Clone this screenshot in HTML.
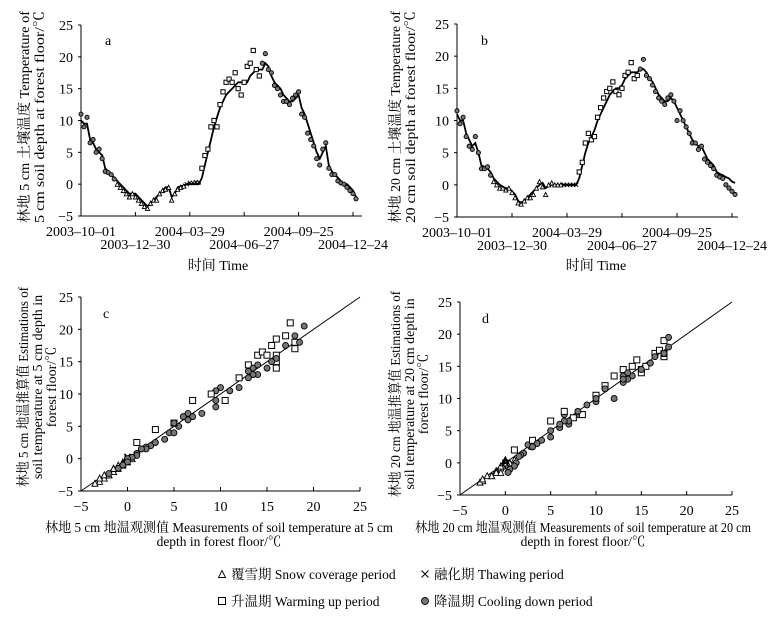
<!DOCTYPE html>
<html><head><meta charset="utf-8"><style>
html,body{margin:0;padding:0;background:#fff;}
svg{display:block;font-family:"Liberation Serif","Noto Serif CJK SC",serif;}
</style></head><body>
<svg id="fig" width="776" height="617" viewBox="0 0 776 617" xmlns="http://www.w3.org/2000/svg">
<g id="root"></g>
</svg>
<script>
// Day index step (days per sample) and period definitions
const dayStep = 5;
const periodStarts = [0, 60, 175, 200, 300];
const periodKinds = ['cool', 'snow', 'thaw', 'warm', 'cool'];
const timeTickLabels = ['2003-10-01','2003-12-30','2004-03-29','2004-06-27','2004-09-25','2004-12-24'];
const timeTickDays = [0, 90, 180, 270, 360, 450];
const valueTicks = [-5, 0, 5, 10, 15, 20, 25];
// 5 cm measured (line)
const meas5 = [10,9.5,9.5,7,6.5,5.5,5,4.5,2.5,2,1.5,1,0.5,0,-0.5,-1,-1.5,-1.5,-1.5,-2,-2.5,-3,-3.5,-3,-2.5,-2,-1.5,-1,-0.5,-0.5,-2,-1.5,-0.5,-0.3,-0.2,0,0,0,0,0,1,3,5,7,9,10.5,12,13,14,14.5,15,15.5,16,16,16,16,17,17.5,18,18,18,19,18.5,17,16,15.5,15,14,13.5,13,13,13.5,14,12,11,9.5,8,6.5,5,4,5,6,3,2,1.5,1,0.5,0,0,-0.5,-1,-2];
// 5 cm estimated (points)
const est5 = [11,9,10.5,6.5,7,5,5.5,4,2,1.8,1.5,0.8,0,-0.5,-1,-1.5,-2,-1.5,-2,-2.5,-3,-3.5,-3.8,-3,-2.5,-2.5,-1.5,-1,-0.8,-0.5,-2.5,-1.5,-0.8,-0.5,-0.3,0,0.2,0.2,0.3,0.3,2.5,4.5,5.5,9,10,9,12.5,14.5,16,16.5,16,17.5,15,14,16,18.5,19,21,18,17,19,20.5,18,17.5,15.5,15,14,13,13,12.5,13.5,14,14.5,11,10.5,8,7,6,4,3,5.5,6.5,2.5,1.5,1.5,0.5,0.2,0,-0.5,-1,-1.5,-2.3];
// 20 cm measured (line)
const meas20 = [11,10,10,8,7,6,6.5,5,3,2.8,2.5,2,1,0.5,0,-0.3,-0.5,-0.5,-1,-1.5,-2.5,-2.8,-2.5,-2,-1.5,-1,-0.5,0,0.3,-0.5,-0.2,0,0,0,0,0,0,0,0,0,1,3,5,6.5,7.5,8.5,10,11,12,13,14,14.5,15,15,15.5,16.5,17,17.5,17.5,17.5,18,18,17.5,16.5,16,15,14,13.5,13,13,13.5,13,12,11,10,9,8,7,6.5,6,6,5,4,3.5,3,2,1.7,1.5,1.2,1,0.5,0.3];
// 20 cm estimated (points)
const est20 = [11.5,9.5,10.5,7.5,6,5.5,7.5,5,2.5,2.5,2.8,1.5,0.5,0,-0.5,-0.5,-0.8,-0.5,-1.2,-2,-2.8,-3,-2.5,-2,-2,-1.5,-0.5,0.5,-0.3,-1.5,0,0.3,0,0,0,0,0,0,0,0,2,3.5,6.5,8,7,7.5,10.5,12,13.5,14.5,15,16,14.5,14,15,17,17.5,19,16.5,17,18,19.5,17,16.5,15.5,14.5,13.5,13,12.5,13.5,14,13,10,11.5,10,9,8,6.5,6.5,5.5,6,4,3.5,3,2.5,1.5,1.2,1,0,-0.5,-1,-1.5];

const NS = 'http://www.w3.org/2000/svg';
const root = document.getElementById('root');
function mk(tag, attrs, parent, text) {
  const e = document.createElementNS(NS, tag);
  for (const k in attrs) e.setAttribute(k, attrs[k]);
  if (text !== undefined) e.textContent = text;
  (parent || root).appendChild(e);
  return e;
}
function periodOf(day) {
  let k = periodKinds[0];
  for (let i = 0; i < periodStarts.length; i++) if (day >= periodStarts[i]) k = periodKinds[i];
  return k;
}
function marker(g, kind, x, y, s) {
  let e;
  if (kind === 'warm') {
    e = mk('rect', {x: x - s/2, y: y - s/2, width: s, height: s, fill: '#fff', stroke: '#000', 'stroke-width': 1}, g);
  } else if (kind === 'cool') {
    e = mk('circle', {cx: x, cy: y, r: s/2, fill: '#777', stroke: '#000', 'stroke-width': 0.9}, g);
  } else if (kind === 'snow') {
    e = mk('path', {d: `M${x} ${y - s/2}L${x + s/2} ${y + s/2}L${x - s/2} ${y + s/2}Z`, fill: '#fff', stroke: '#000', 'stroke-width': 0.9}, g);
  } else {
    e = mk('path', {d: `M${x - s/2} ${y - s/2}L${x + s/2} ${y + s/2}M${x + s/2} ${y - s/2}L${x - s/2} ${y + s/2}`, stroke: '#000', 'stroke-width': 1}, g);
  }
  
  
}
function fmt(v) { return v < 0 ? '\u2212' + Math.abs(v) : String(v); }
function vtext(g, x, cy, s, len) {
  const a = {x: x, y: cy, 'text-anchor': 'middle', 'font-size': 14, transform: `rotate(-90 ${x} ${cy})`};
  if (len) { a.textLength = len; a.lengthAdjust = 'spacingAndGlyphs'; }
  const t = mk('text', a, g, s);
  
  
}

function timePanel(cfg) {
  const g = mk('g', {});
  
  
  const xs = d => cfg.x0 + (d - timeTickDays[0]) * (cfg.xTick5 - cfg.x0) / (timeTickDays[5] - timeTickDays[0]);
  const ys = v => cfg.yBot + (v + 5) * (cfg.yTop - cfg.yBot) / 30;
  const ax = mk('path', {d: `M${cfg.x0} ${cfg.yTop}V${cfg.yBot}H${cfg.xEnd}`, stroke: '#000', 'stroke-width': 1, fill: 'none'}, g);
  
  
  valueTicks.forEach(v => {
    mk('line', {x1: cfg.x0 - 3, x2: cfg.x0, y1: ys(v), y2: ys(v), stroke: '#000'}, g);
    const t = mk('text', {x: cfg.x0 - 8, y: ys(v) + 5, 'text-anchor': 'end', 'font-size': 14}, g, fmt(v));
    
    
  });
  timeTickDays.forEach((d, i) => {
    mk('line', {x1: xs(d), x2: xs(d), y1: cfg.yBot, y2: cfg.yBot - 4, stroke: '#000'}, g);
    const t = mk('text', {x: xs(d), y: cfg.yBot + (i % 2 === 0 ? 20 : 33), 'text-anchor': 'middle', 'font-size': 14}, g, timeTickLabels[i].replace(/-/g, '\u2013'));
    
    
  });
  let dstr = '';
  cfg.meas.forEach((v, i) => { dstr += (i ? 'L' : 'M') + xs(i * dayStep).toFixed(1) + ' ' + ys(v).toFixed(1); });
  const ln = mk('path', {d: dstr, stroke: '#000', 'stroke-width': 1.8, fill: 'none'}, g);
  
  
  const pg = mk('g', {}, g);
  
  
  cfg.est.forEach((v, i) => marker(pg, periodOf(i * dayStep), xs(i * dayStep), ys(v), 4.2));
  const lt = mk('text', {x: cfg.x0 + 24, y: 45, 'font-size': 14}, g, cfg.letter);
  
  
  cfg.ylab.forEach((s, i) => vtext(g, cfg.ylabX[i], 117, s, 212));
  const xt = mk('text', {x: cfg.xTitleX, y: 270, 'text-anchor': 'middle', 'font-size': 14}, g, '时间 Time');
  
  
}

function scatterPanel(cfg) {
  const g = mk('g', {});
  
  
  const xs = v => cfg.x0 + (v + 5) * (cfg.x1 - cfg.x0) / 30;
  const ys = v => cfg.yBot + (v + 5) * (cfg.yTop - cfg.yBot) / 30;
  const ax = mk('path', {d: `M${cfg.x0} ${cfg.yTop}V${cfg.yBot}H${cfg.x1}`, stroke: '#000', 'stroke-width': 1, fill: 'none'}, g);
  
  
  valueTicks.forEach(v => {
    mk('line', {x1: cfg.x0 - 3, x2: cfg.x0, y1: ys(v), y2: ys(v), stroke: '#000'}, g);
    const t = mk('text', {x: cfg.x0 - 8, y: ys(v) + 5, 'text-anchor': 'end', 'font-size': 14}, g, fmt(v));
    
    
    mk('line', {x1: xs(v), x2: xs(v), y1: cfg.yBot, y2: cfg.yBot - 4, stroke: '#000'}, g);
    const t2 = mk('text', {x: xs(v), y: cfg.yBot + 20, 'text-anchor': 'middle', 'font-size': 14}, g, fmt(v));
    
    
  });
  const dl = mk('line', {x1: xs(-5), y1: ys(-5), x2: xs(25), y2: ys(25), stroke: '#000', 'stroke-width': 1}, g);
  
  
  const pg = mk('g', {}, g);
  
  
  cfg.meas.forEach((m, i) => marker(pg, periodOf(i * dayStep), xs(m), ys(cfg.est[i]), 6));
  const lt = mk('text', {x: cfg.x0 + 22, y: cfg.yTop + 21, 'font-size': 14}, g, cfg.letter);
  
  
  cfg.ylab.forEach((s, i) => vtext(g, cfg.ylabX[i], cfg.ylabCy, s, i === 0 ? cfg.ylabLen : null));
  cfg.xlab.forEach((s, i) => {
    const a = {x: cfg.xTitleX, y: 532 + i * 14, 'text-anchor': 'middle', 'font-size': 13.5};
    if (i === 0) { a.textLength = cfg.xlabLen; a.lengthAdjust = 'spacingAndGlyphs'; }
    const t = mk('text', a, g, s);
    
    
  });
}

timePanel({name: 'panel-a-5cm-timeseries', letter: 'a', x0: 81, xTick5: 353, xEnd: 362, yTop: 25, yBot: 216,
  meas: meas5, est: est5, ylab: ['林地 5 cm 土壤温度 Temperature of', '5 cm soil depth at forest floor/℃'], ylabX: [29, 44], xTitleX: 218});
timePanel({name: 'panel-b-20cm-timeseries', letter: 'b', x0: 457, xTick5: 732, xEnd: 738, yTop: 24, yBot: 217,
  meas: meas20, est: est20, ylab: ['林地 20 cm 土壤温度 Temperature of', '20 cm soil depth at forest floor/℃'], ylabX: [400, 415], xTitleX: 596});
scatterPanel({name: 'panel-c-5cm-scatter', letter: 'c', x0: 81, x1: 360, yTop: 297, yBot: 491,
  meas: meas5, est: est5, ylab: ['林地 5 cm 地温推算值 Estimations of', 'soil temperature at 5 cm depth in', 'forest floor/℃'], ylabX: [28, 42, 56],
  ylabCy: 387, ylabLen: 200,
  xlab: ['林地 5 cm 地温观测值 Measurements of soil temperature at 5 cm', 'depth in forest floor/℃'], xTitleX: 219, xlabLen: 348});
scatterPanel({name: 'panel-d-20cm-scatter', letter: 'd', x0: 460, x1: 732, yTop: 302, yBot: 495,
  meas: meas20, est: est20, ylab: ['林地 20 cm 地温推算值 Estimations of', 'soil temperature at 20 cm depth in', 'forest floor/℃'], ylabX: [400, 414, 428],
  ylabCy: 394, ylabLen: 206,
  xlab: ['林地 20 cm 地温观测值 Measurements of soil temperature at 20 cm', 'depth in forest floor/℃'], xTitleX: 583, xlabLen: 336});

const lg = mk('g', {});


const legendItems = [['snow', 222, 575, '覆雪期  Snow coverage period'], ['thaw', 425, 575, '融化期 Thawing period'],
  ['warm', 222, 602, '升温期  Warming up period'], ['cool', 425, 602, '降温期 Cooling down period']];
legendItems.forEach(it => {
  const eg = mk('g', {}, lg);
  
  
  marker(eg, it[0], it[1], it[2] - 1, 7);
  mk('text', {x: it[1] + 9, y: it[2] + 4, 'font-size': 13.5}, eg, it[3]);
});
</script>
</body></html>
